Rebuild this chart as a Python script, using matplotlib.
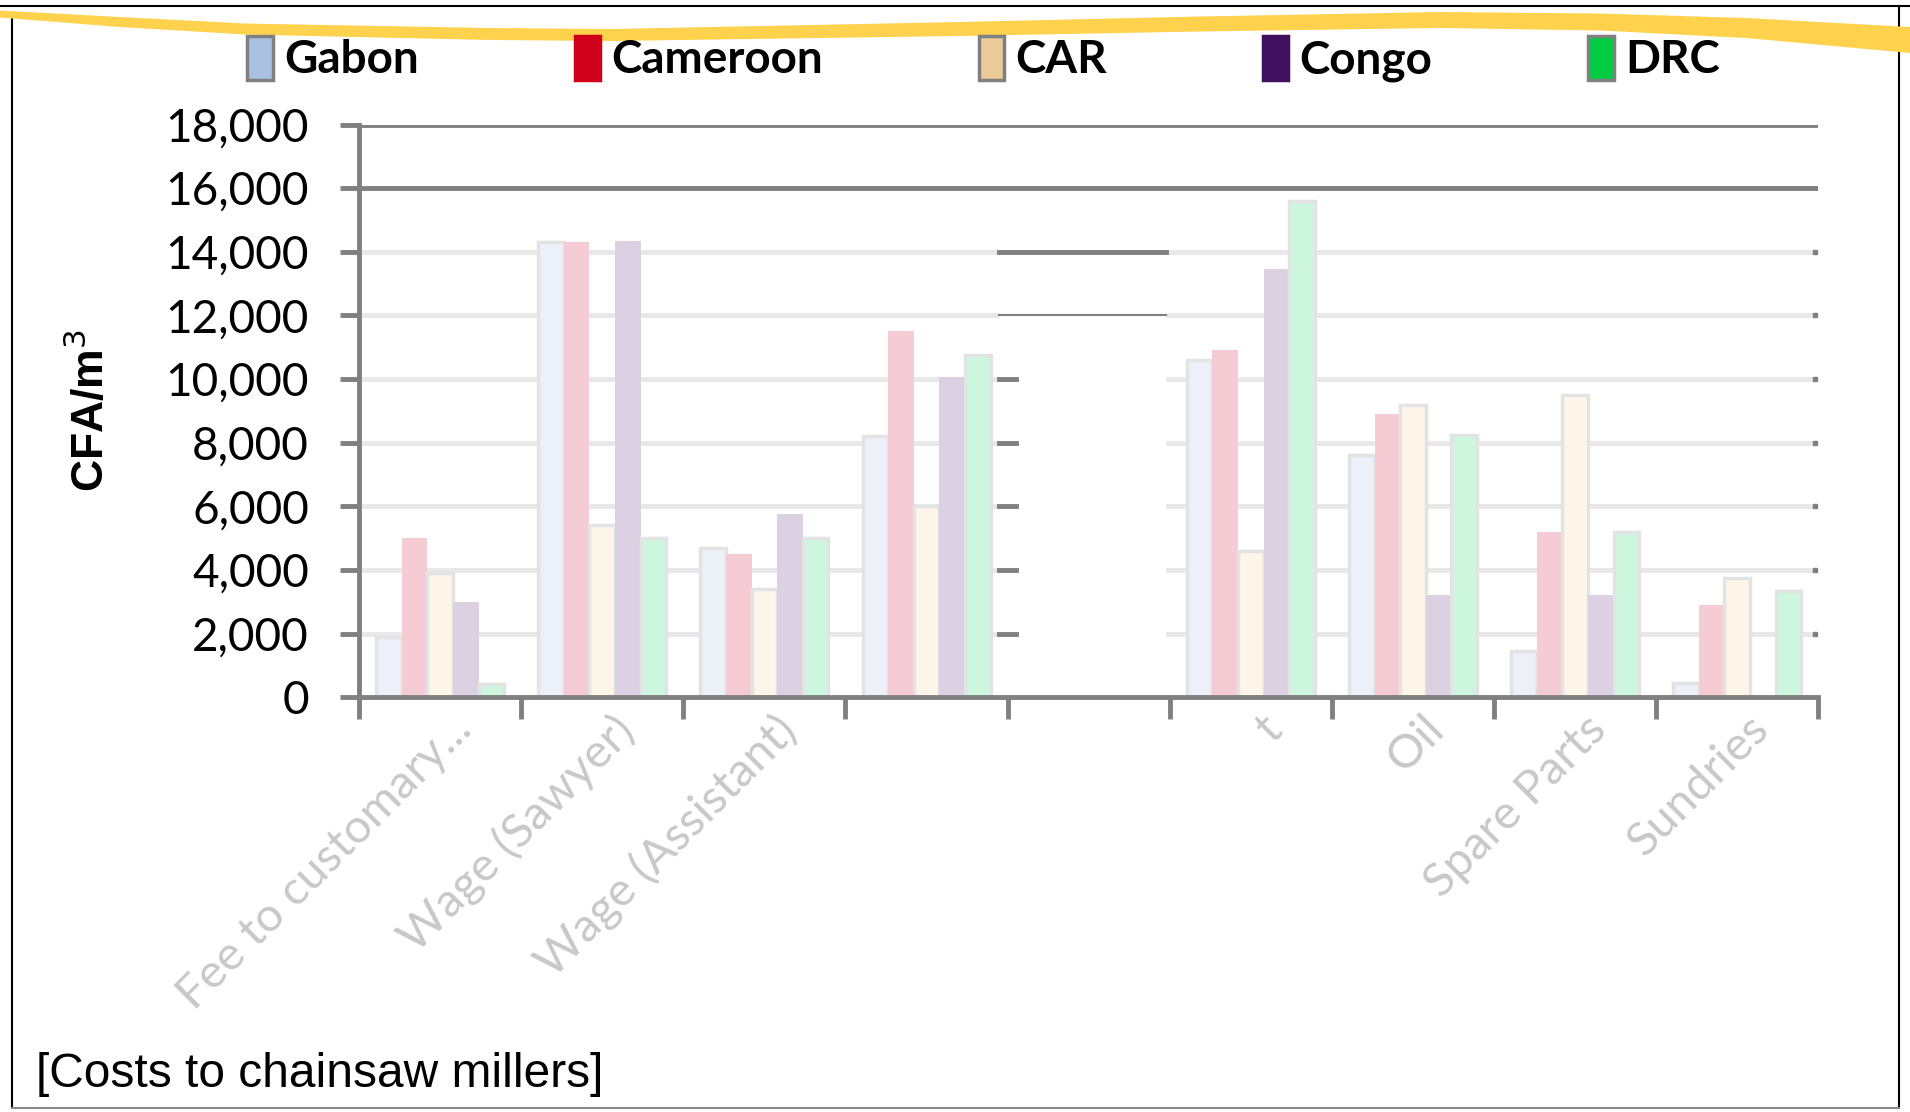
import numpy as np
import matplotlib
matplotlib.use('Agg')
import matplotlib.pyplot as plt
from matplotlib.patches import Patch, Rectangle
from matplotlib.lines import Line2D

# categories (some labels are hidden in the source picture)
categories = ["Fee to customary...", "Wage (Sawyer)", "Wage (Assistant)", "", "",
              "t", "Oil", "Spare Parts", "Sundries"]
countries = ["Gabon", "Cameroon", "CAR", "Congo", "DRC"]

# CFA/m3 per country, one value per category (5th category is covered in the source)
gabon    = [1900, 14300, 4700, 8200, np.nan, 10600, 7600, 1450, 450]
cameroon = [5000, 14300, 4500, 11500, np.nan, 10900, 8900, 5200, 2900]
car      = [3900, 5400, 3400, 6000, np.nan, 4600, 9200, 9500, 3750]
congo    = [3000, 14350, 5750, 10050, np.nan, 13450, 3200, 3200, 0]
drc      = [400, 5000, 5000, 10750, np.nan, 15600, 8250, 5200, 3350]
series = [gabon, cameroon, car, congo, drc]

bar_colors = ['#ECF1F9', '#F5CCD3', '#FDF5E8', '#DCD0E3', '#CCF7DE']
bar_edges = ['#E3E3E3', 'none', '#E3E3E3', 'none', '#E3E3E3']
legend_colors = ['#A9C0E2', '#D0021B', '#EBCB98', '#40105E', '#00CC44']
legend_edges = ['#808080', '#D0021B', '#808080', '#40105E', '#808080']

fig = plt.figure(figsize=(19.1, 11.12), dpi=100)
ax = fig.add_axes([0.188, 0.373, 0.764, 0.515])

x = np.arange(len(categories))
w = 0.158
for i, vals in enumerate(series):
    ax.bar(x + (i - 2) * w, vals, w, color=bar_colors[i], edgecolor=bar_edges[i],
           linewidth=2.5, zorder=3)

ax.set_xlim(-0.5, len(categories) - 0.5)
ax.set_ylim(0, 18000)
yt = np.arange(0, 18001, 2000)
ax.set_yticks(yt)
ax.set_yticklabels([f"{v:,}" for v in yt], fontsize=33, family='Lato')

# gridlines: light ones, the top two drawn dark
for v in yt[1:]:
    if v >= 16000:
        ax.axhline(v, color='#808080', lw=3.5, zorder=1)
    else:
        ax.axhline(v, color='#E8E8E8', lw=3.5, zorder=1)
        ax.plot([len(categories) - 0.52], [v], marker='s', ms=3.5, color='#808080',
                zorder=2, clip_on=False)

# white patch hiding the 5th category, as in the source
ax.add_patch(Rectangle((3.447, 0), 1.03, 14000, facecolor='white', edgecolor='none', zorder=4))
ax.plot([3.447, 4.477], [14000, 14000], color='#808080', lw=3.5, zorder=5)
ax.plot([3.447, 4.477], [12000, 12000], color='#808080', lw=1.5, zorder=5)
for v in yt[1:6]:
    ax.plot([3.447, 3.55], [v, v], color='#808080', lw=3.5, zorder=5)

for s in ['top', 'right']:
    ax.spines[s].set_visible(False)
for s in ['left', 'bottom']:
    ax.spines[s].set_color('#808080')
    ax.spines[s].set_linewidth(3.5)
    ax.spines[s].set_zorder(6)

ax.set_xticks(np.arange(-0.5, len(categories)), minor=False)
ax.set_xticklabels([])
ax.tick_params(axis='x', length=16, width=3.5, color='#808080', direction='out')
ax.tick_params(axis='y', length=14, width=3.5, color='#808080', pad=22)

for i, lab in enumerate(categories):
    ax.text(i + 0.06, -330, lab, rotation=45, ha='right', va='top',
            rotation_mode='anchor', fontsize=34, color='#C8C8C8', family='Lato')

ax.set_ylabel("CFA/m$^3$", fontsize=32, fontweight='bold', family='Liberation Sans',
              labelpad=38)

handles = [Patch(facecolor=legend_colors[i], edgecolor=legend_edges[i], linewidth=2.5,
                 label=countries[i]) for i in range(5)]
fig.legend(handles=handles, loc='center', bbox_to_anchor=(0.515, 0.947), ncol=5,
           frameon=False, prop={'family': 'Lato', 'size': 33, 'weight': 'bold'},
           handlelength=0.55, handleheight=1.1, handletextpad=0.25, columnspacing=3.4)

fig.text(0.019, 0.034, "[Costs to chainsaw millers]", fontsize=34.5,
         family='Liberation Sans', va='center')

# frame lines and yellow swoosh decoration
deco = fig.add_axes([0, 0, 1, 1], zorder=-1)
deco.set_xlim(0, 1910)
deco.set_ylim(1112, 0)
deco.axis('off')
deco.add_line(Line2D([0, 1910], [6, 6], color='black', lw=1.5))
deco.add_line(Line2D([12, 12], [18, 1108], color='black', lw=1.5))
deco.add_line(Line2D([1899, 1899], [6, 1108], color='black', lw=1.5))
deco.add_line(Line2D([12, 1899], [1108, 1108], color='#888888', lw=1.5))
cx = np.array([0, 120, 245, 490, 612, 960, 1200, 1440, 1600, 1746, 1910])
cy = np.array([14, 22, 29, 34, 35, 29, 24, 20, 22, 28, 40])
th = np.array([3.5, 5, 5.5, 6, 6, 7, 7.5, 8, 8.5, 10, 13])
deco.fill_between(cx, cy - th, cy + th, color='#FFD24D', lw=0, zorder=3)

fig.savefig('out.png', dpi=100)
